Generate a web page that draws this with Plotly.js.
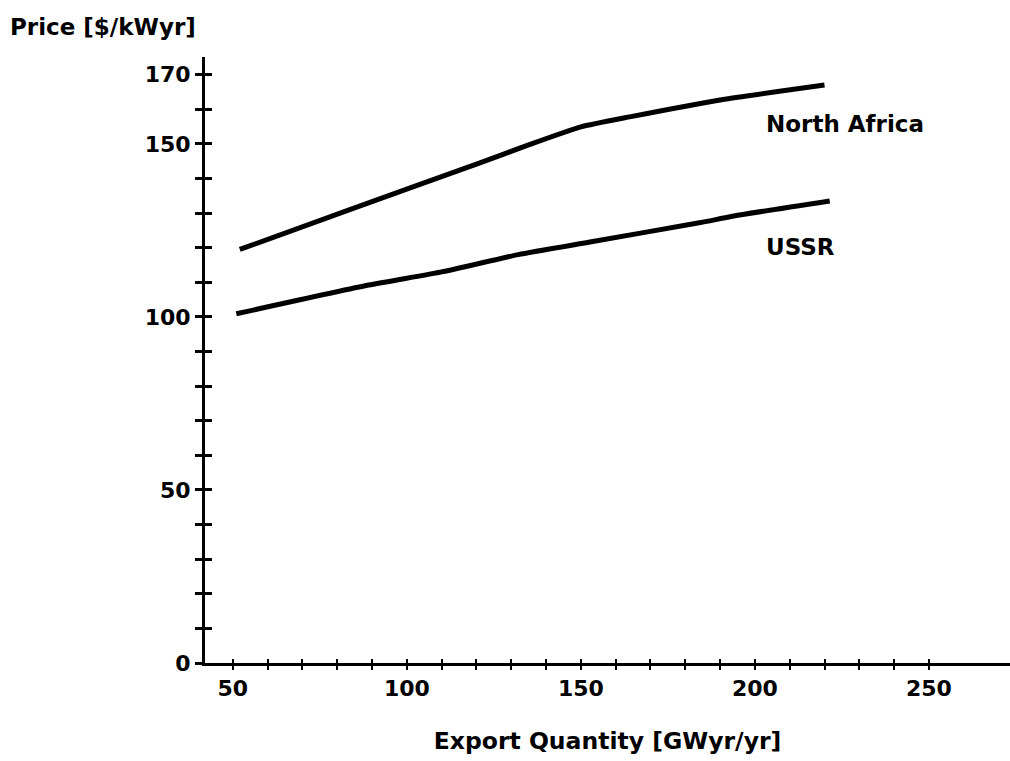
<!DOCTYPE html>
<html>
<head>
<meta charset="utf-8">
<script src="https://cdn.plot.ly/plotly-3.0.1.min.js"></script>
<style>html,body{margin:0;padding:0;background:#fff;}#chart{width:1010px;height:761px;}</style>
</head>
<body>
<div id="chart"></div>
<script>
// Data
const northAfricaX = [52, 85, 121, 135, 150, 164, 190, 220];
const northAfricaY = [119.5, 131.5, 144.5, 149.7, 154.9, 157.8, 162.7, 167];
const ussrX = [51, 89, 110, 132, 153, 184, 196, 221.5];
const ussrY = [100.9, 109.2, 113, 118, 121.7, 127.2, 129.5, 133.5];
const seriesNames = ['North Africa', 'USSR'];
const labelPos = {x: [202.6, 202.6], y: [155.8, 120.2]};
const xTickVals = [50,60,70,80,90,100,110,120,130,140,150,160,170,180,190,200,210,220,230,240,250];
const xTickText = xTickVals.map(v => v % 50 === 0 ? String(v) : '');
const yTickVals = [0,10,20,30,40,50,60,70,80,90,100,110,120,130,140,150,160,170];
const yTickText = yTickVals.map(v => (v % 50 === 0 || v === 170) ? String(v) : '');

const FONT = 'DejaVu Sans, Verdana, sans-serif';
const xr = [42, 273.3];
const yr = [0, 175.1];

const lineStyle = {color: '#000', width: 5, shape: 'spline', smoothing: 0.5};
const traces = [
  {x: northAfricaX, y: northAfricaY, mode: 'lines', line: lineStyle, name: seriesNames[0], hoverinfo: 'skip'},
  {x: ussrX, y: ussrY, mode: 'lines', line: lineStyle, name: seriesNames[1], hoverinfo: 'skip'},
  {x: [], y: [], xaxis: 'x2', yaxis: 'y2', mode: 'lines', showlegend: false, hoverinfo: 'skip'}
];

const axBase = {showgrid: false, zeroline: false, fixedrange: true};

const layout = {
  width: 1010, height: 761,
  margin: {l: 205, r: 0, t: 57, b: 98},
  paper_bgcolor: '#fff', plot_bgcolor: '#fff',
  showlegend: false,
  font: {family: FONT, color: '#000', weight: 'bold'},
  title: {text: 'Price [$/kWyr]', x: 10/1010, xanchor: 'left', xref: 'container', y: 1 - 27/761, yanchor: 'middle', yref: 'container', font: {family: FONT, size: 23, weight: 'bold', color: '#000'}},
  xaxis: Object.assign({}, axBase, {
    range: xr, showline: true, linewidth: 3, linecolor: '#000',
    tickmode: 'array', tickvals: xTickVals, ticktext: xTickText,
    ticks: 'outside', ticklen: 4, tickwidth: 2, tickcolor: '#000',
    tickfont: {family: FONT, size: 22, weight: 'bold'},
    title: {text: 'Export Quantity [GWyr/yr]', font: {family: FONT, size: 23.5, weight: 'bold'}, standoff: 33}
  }),
  yaxis: Object.assign({}, axBase, {
    range: yr, showline: true, linewidth: 3, linecolor: '#000',
    tickmode: 'array', tickvals: yTickVals, ticktext: yTickText,
    ticks: 'outside', ticklen: 7, tickwidth: 3, tickcolor: '#000',
    tickfont: {family: FONT, size: 22, weight: 'bold'}
  }),
  xaxis2: Object.assign({}, axBase, {
    overlaying: 'x', anchor: 'y', side: 'bottom', range: xr,
    tickmode: 'array', tickvals: xTickVals, showticklabels: false,
    ticks: 'inside', ticklen: 4, tickwidth: 2, tickcolor: '#000', showline: false
  }),
  yaxis2: Object.assign({}, axBase, {
    overlaying: 'y', anchor: 'x', side: 'left', range: yr,
    tickmode: 'array', tickvals: yTickVals, showticklabels: false,
    ticks: 'inside', ticklen: 7, tickwidth: 3, tickcolor: '#000', showline: false
  }),
  annotations: seriesNames.map((n, i) => ({
    x: labelPos.x[i], y: labelPos.y[i], xref: 'x', yref: 'y', text: n,
    showarrow: false, xanchor: 'left', yanchor: 'middle',
    font: {family: FONT, size: 23, weight: 'bold', color: '#000'}
  }))
};

Plotly.newPlot('chart', traces, layout, {staticPlot: true, displayModeBar: false});
</script>
</body>
</html>
